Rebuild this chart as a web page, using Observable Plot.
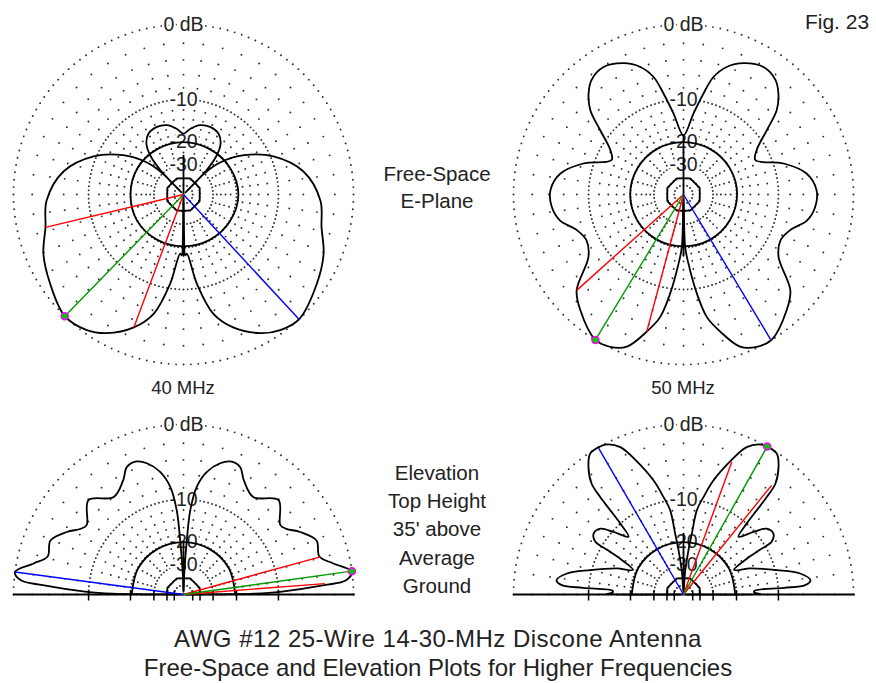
<!DOCTYPE html>
<html><head><meta charset="utf-8">
<script src="https://cdn.jsdelivr.net/npm/d3@7"></script>
<script src="https://cdn.jsdelivr.net/npm/@observablehq/plot@0.6"></script>
<style>
body{margin:0;background:#fff;}
#page{position:relative;width:876px;height:683px;background:#fff;font-family:"Liberation Sans",Arial,sans-serif;color:#222;overflow:hidden}
.panel{position:absolute}
.lbl{position:absolute;white-space:nowrap;transform:translateX(-50%);}
</style></head><body><div id="page"></div>
<script>
// ---------- DATA (angle in degrees, gain in dB) ----------
// Free-space E-plane: angle clockwise from top
const fs40Main = [[0,-17.6],[6,-16.2],[13.5,-14.9],[21.5,-14.6],[30,-15.2],[36,-17.0],[40.3,-20.5],[43.5,-27.8],[44.5,-70],[45,-29.2],[49,-21.3],[57,-14.7],[67,-9.5],[79,-5.7],[92.5,-3.7],[103.4,-3.1],[113,-1.9],[123.7,-1.0],[137,0],[144.5,-0.35],[151,-1.2],[159.5,-3.1],[166,-5.6],[171.5,-10.9],[176.8,-18.1],[178.4,-17.6],[179.2,-24],[180,-70],[180.8,-24],[181.6,-17.6],[183.2,-18.1],[188.5,-10.9],[194,-5.6],[200.5,-3.1],[209,-1.2],[215.5,-0.35],[224.3,0],[236.3,-1.0],[247,-1.9],[256.6,-3.1],[267.5,-3.7],[281,-5.7],[293,-9.5],[303,-14.7],[311,-21.3],[315,-29.2],[315.5,-70],[316.5,-27.8],[319.7,-20.5],[324,-17.0],[330,-15.2],[338.5,-14.6],[346.5,-14.9],[354,-16.2]];
const fs50Main = [[0,-18.1],[7,-12.6],[11.2,-8.6],[14.3,-5.8],[18.7,-4.0],[24.6,-2.8],[32.1,-2.1],[38.7,-2.5],[43.2,-3.5],[47.9,-5.2],[52.3,-8.2],[58.8,-11.8],[64.4,-13.0],[72.8,-8.3],[80.3,-5.3],[88.1,-4.2],[95.3,-4.3],[101.8,-5.1],[108.5,-7.1],[115.3,-7.9],[123.3,-6.9],[131.9,-2.9],[138.2,-1.6],[148.8,0],[154.3,-0.1],[159.6,-0.8],[165,-3.1],[169.2,-5.3],[172.3,-9.1],[175.9,-15.4],[178.2,-20.2],[180,-70],[181.8,-20.2],[184.1,-15.4],[187.7,-9.1],[190.8,-5.3],[195,-3.1],[200.4,-0.8],[205.7,-0.1],[211.2,0],[221.8,-1.6],[228.1,-2.9],[236.7,-6.9],[244.7,-7.9],[251.5,-7.1],[258.2,-5.1],[264.7,-4.3],[271.9,-4.2],[279.7,-5.3],[287.2,-8.3],[295.6,-13.0],[301.2,-11.8],[307.7,-8.2],[312.1,-5.2],[316.8,-3.5],[321.3,-2.5],[327.9,-2.1],[335.4,-2.8],[341.3,-4.0],[345.7,-5.8],[348.8,-8.6],[353,-12.6]];
const fsCross40 = [[0,-20.2],[30,-20.2],[60,-19.8],[90,-19.4],[120,-19.8],[150,-20.2],[180,-20.4],[210,-20.2],[240,-19.9],[270,-20.0],[300,-20.0],[330,-20.2]];
const fsCross50 = [[0,-20.2],[30,-20.1],[60,-19.9],[90,-19.8],[120,-20.0],[150,-20.2],[180,-20.4],[210,-20.2],[240,-20.0],[270,-19.9],[300,-20.0],[330,-20.1]];
const fsOctagon = [[22.5,-39],[67.5,-39],[112.5,-39],[157.5,-39],[202.5,-39],[247.5,-39],[292.5,-39],[337.5,-39]];
const fs40Axis = [[0,-25.3],[180,-17.5]];
const fs50Axis = [[0,-18.1],[180,-17.5]];
const fs40Red = [[256.6,-3.1],[200.5,-3.1]], fs40Green = [[224.3,0]], fs40Blue = [[137.2,0]];
const fs50Red = [[228.1,-2.9],[195,-3.1]], fs50Green = [[211.2,0]], fs50Blue = [[149,-0.1]];

// Elevation: angle counter-clockwise from right horizon
const el40Main = [[0,-70],[0.3,-25],[0.7,-15],[1.6,-9.7],[3.8,-3.2],[5,-0.7],[7.7,0],[11.7,-1.8],[15.6,-3.2],[22.1,-2.9],[28.2,-4.3],[32.6,-5.7],[35.6,-6.1],[44.8,-4.1],[54.4,-6.0],[62.2,-4.7],[66,-3.4],[70.6,-3.2],[74.4,-3.8],[79.2,-5.3],[83,-7.7],[85.4,-12],[86.5,-19.7],[88,-36],[90,-70],[92,-36],[93.5,-19.7],[94.6,-12],[97,-7.7],[100.8,-5.3],[105.6,-3.8],[109.4,-3.2],[114,-3.4],[117.8,-4.7],[125.6,-6.0],[135.2,-4.1],[144.4,-6.1],[147.4,-5.7],[151.8,-4.3],[157.9,-2.9],[164.4,-3.2],[168.3,-1.8],[172.4,0],[175,-0.7],[176.2,-3.2],[178.4,-9.7],[179.3,-15],[179.7,-25],[180,-70]];
const el50Main = [[0,-70],[0.5,-13.6],[1.5,-15],[3,-15],[3.8,-9],[4.4,-5.7],[6.4,-4.9],[10.2,-6.2],[14.6,-9.7],[21.3,-14.8],[26,-19],[29.5,-14.5],[30.3,-11.2],[31,-8.6],[34.1,-7.7],[38.4,-8.1],[41.8,-10.2],[46.4,-13],[48.3,-10],[49,-7.2],[49.5,-4.8],[50.4,-2.8],[53.4,-1.1],[56.5,-0.1],[60.5,0],[62.5,-0.1],[66.8,-1.0],[70.5,-3.1],[75.3,-6.3],[78.4,-9.2],[81,-11.8],[82.2,-17.4],[83.6,-23],[86,-35],[90,-70],[94,-35],[96.4,-23],[97.8,-17.4],[99,-11.8],[101.6,-9.2],[104.7,-6.3],[109.5,-3.1],[113.2,-1.0],[117.5,-0.1],[119.9,0],[123.5,-0.1],[126.6,-1.1],[129.6,-2.8],[130.5,-4.8],[131,-7.2],[131.7,-10],[133.6,-13],[138.2,-10.2],[141.6,-8.1],[145.9,-7.7],[149,-8.6],[149.7,-11.2],[150.5,-14.5],[154,-19],[158.7,-14.8],[165.4,-9.7],[169.8,-6.2],[173.6,-4.9],[175.6,-5.7],[176.2,-9],[177,-15],[178.5,-15],[179.5,-13.6],[180,-70]];
const elCross40 = [[0,-20.4],[30,-20.2],[60,-20.2],[90,-20.2],[120,-20.2],[150,-20.2],[180,-20.4]];
const elCross50 = [[0,-20.4],[30,-20.2],[60,-20.2],[90,-20.2],[120,-20.2],[150,-20.2],[180,-20.4]];
const elOctagon = [[0,-40.4],[22.5,-39],[67.5,-39],[112.5,-39],[157.5,-39],[180,-40.4]];
const el40Axis = [[90,-20],[90,-70]];
const el50Axis = [[90,-17.6],[90,-70]];
const el40Red = [[15.4,-3.1],[4.4,-3.1]], el40Green = [[7.9,0]], el40Blue = [[172.4,0]];
const el50Red = [[70,-3.2],[51.1,-3.3]], el50Green = [[60.5,0]], el50Blue = [[120.1,-0.1]];

// grid / tick values
const majorRingsDb = [0,-10,-20,-30,-40,-50];
const minorRingsDb = [-2,-4,-6,-8,-12,-14,-16,-18];
const innerRingsDb = [-22,-24,-26,-28];
const ringLabels = [{db:0,t:"0 dB"},{db:-10,t:"-10"},{db:-20,t:"-20"},{db:-30,t:"-30"}];
const groundTickDb = [-10,-20,-30,-40,-50];

// ---------- DRAWING ----------
const S = 170;                              // px of the 0 dB ring
const rad = db => Math.pow(0.89, -db / 2);  // ARRL log scale
const toR = a => a * Math.PI / 180;
const fsXY = ([a, db]) => [rad(db) * Math.sin(toR(a)), rad(db) * Math.cos(toR(a))];
const elXY = ([a, db]) => [rad(db) * Math.cos(toR(a)), rad(db) * Math.sin(toR(a))];
const FONT = "Liberation Sans, Arial, sans-serif";

function makePanel(c) {
  const full = c.kind === "fs";
  const P = full ? fsXY : elXY;
  const X = d => P(d)[0], Y = d => P(d)[1];
  const span = full ? 360 : 180;
  const grid = [];
  const addRing = (db, step) => {
    const n = Math.round(span / step);
    for (let i = 0; i < n + (full ? 0 : 1); i++) grid.push([i * span / n, db]);
  };
  majorRingsDb.forEach(db => {
    const r = rad(db) * S;
    addRing(db, Math.max(2.5, 3.6 / r * 180 / Math.PI));
  });
  minorRingsDb.forEach(db => addRing(db, 7.5));
  innerRingsDb.forEach(db => addRing(db, 15));
  const W = 360, H = full ? 360 : 200, topU = full ? 180 : 185;
  const marks = [
    Plot.dot(grid, {x: X, y: Y, r: 0.95, fill: "#2a2a2a", stroke: null}),
  ];
  if (!full) {
    const ticks = groundTickDb.flatMap(db => [rad(db), -rad(db)]);
    marks.push(Plot.ruleY([0], {x1: -rad(0), x2: rad(0) + 0.01, stroke: "#000", strokeWidth: 2}));
    marks.push(Plot.link(ticks, {x1: d => d, x2: d => d, y1: () => -6 / S, y2: () => 4 / S, stroke: "#000", strokeWidth: 1.5}));
  }
  marks.push(
    Plot.text(ringLabels, {x: () => 0, y: d => rad(d.db), text: "t", fontSize: 19.5, fill: "#222", stroke: "white", strokeWidth: 5, fontFamily: FONT}),
    Plot.line(c.cross, {x: X, y: Y, curve: full ? "catmull-rom-closed" : "catmull-rom", stroke: "#000", strokeWidth: 1.8}),
    Plot.line(c.oct, {x: X, y: Y, curve: full ? "linear-closed" : "linear", stroke: "#000", strokeWidth: 1.8}),
    Plot.line(c.axis, {x: X, y: Y, stroke: "#000", strokeWidth: 1.8}),
    Plot.line(c.main, {x: X, y: Y, curve: full ? "catmull-rom-closed" : "catmull-rom", stroke: "#000", strokeWidth: 1.8}),
    Plot.link(c.red, {x1: () => 0, y1: () => 0, x2: X, y2: Y, stroke: "#ff0000", strokeWidth: 1.4}),
    Plot.link(c.green, {x1: () => 0, y1: () => 0, x2: X, y2: Y, stroke: "#009900", strokeWidth: 1.4}),
    Plot.link(c.blue, {x1: () => 0, y1: () => 0, x2: X, y2: Y, stroke: "#0000ff", strokeWidth: 1.4}),
    Plot.dot(c.green, {x: X, y: Y, r: 3.5, fill: "#00cc00", stroke: "#ff00ff", strokeWidth: 1.5})
  );
  const svg = Plot.plot({
    width: W, height: H, margin: 0,
    style: {background: "transparent", fontFamily: FONT},
    x: {domain: [-180 / S, 180 / S], axis: null},
    y: {domain: [(topU - H) / S, topU / S], axis: null},
    marks
  });
  svg.classList.add("panel");
  svg.style.left = (c.cx - 180) + "px";
  svg.style.top = (c.cy - topU) + "px";
  return svg;
}

const page = document.getElementById("page");
[
  {kind: "fs", cx: 183.3, cy: 194.3, main: fs40Main, cross: fsCross40, oct: fsOctagon, axis: fs40Axis, red: fs40Red, green: fs40Green, blue: fs40Blue},
  {kind: "fs", cx: 683.3, cy: 194.3, main: fs50Main, cross: fsCross50, oct: fsOctagon, axis: fs50Axis, red: fs50Red, green: fs50Green, blue: fs50Blue},
  {kind: "el", cx: 183.3, cy: 594.3, main: el40Main, cross: elCross40, oct: elOctagon, axis: el40Axis, red: el40Red, green: el40Green, blue: el40Blue},
  {kind: "el", cx: 683.3, cy: 594.3, main: el50Main, cross: elCross50, oct: elOctagon, axis: el50Axis, red: el50Red, green: el50Green, blue: el50Blue}
].forEach(c => page.appendChild(makePanel(c)));

// ---------- TEXT ----------
function label(text, cx, baseline, size, spacing) {
  const d = document.createElement("div");
  d.className = "lbl";
  d.textContent = text;
  d.style.fontSize = size + "px";
  d.style.lineHeight = size + "px";
  if (spacing) d.style.letterSpacing = spacing + "px";
  d.style.left = cx + "px";
  d.style.top = (baseline - 0.8465 * size) + "px";
  page.appendChild(d);
}
label("Fig. 23", 837, 29, 21);
label("Free-Space", 437, 181, 20.5);
label("E-Plane", 437, 208, 20.5);
label("40 MHz", 183, 395, 18.5);
label("50 MHz", 683, 395, 18.5);
["Elevation", "Top Height", "35' above", "Average", "Ground"].forEach((t, i) => label(t, 437, 480 + i * 28.3, 20.5));
label("AWG #12 25-Wire 14-30-MHz Discone Antenna", 438, 647, 24, 0.5);
label("Free-Space and Elevation Plots for Higher Frequencies", 438, 676, 24);
</script>
</body></html>
